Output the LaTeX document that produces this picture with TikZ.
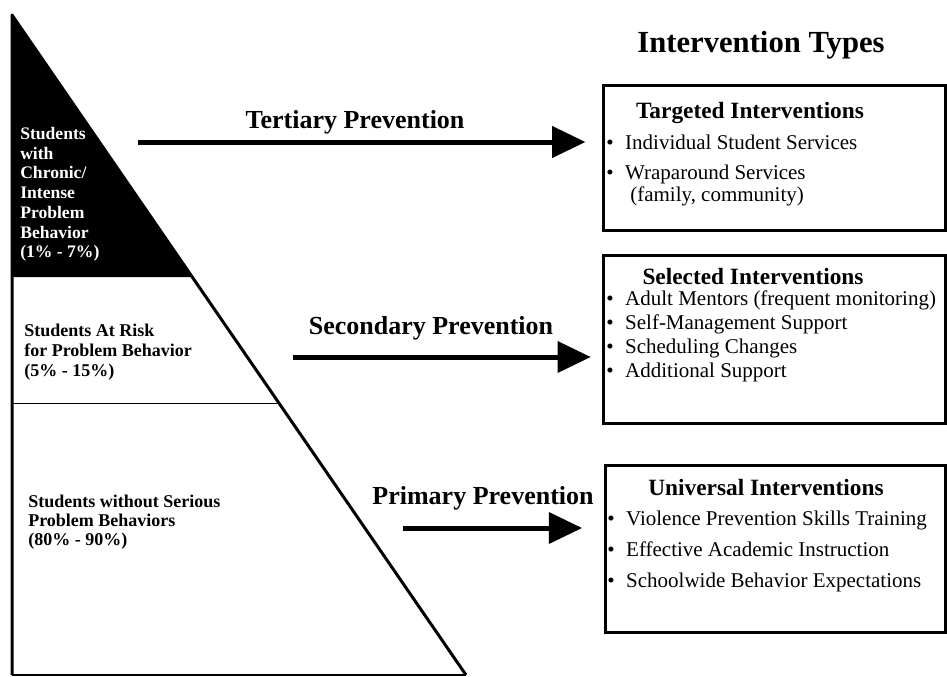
\documentclass[tikz,border=0pt]{standalone}
\usepackage{fontspec}
\setmainfont{Liberation Serif}
\usetikzlibrary{arrows.meta}

\tikzstyle{tier} = [font=\bfseries\fontsize{13.5}{15}\selectfont,
                    align=left, anchor=north west, inner sep=0pt]
\tikzstyle{tier-dark} = [tier, text=white, font=\bfseries\fontsize{13.2}{14.8}\selectfont]
\tikzstyle{prevention} = [line width=3.75pt, -{Triangle[length=25pt,width=23pt]}]
\tikzstyle{prev-label} = [font=\bfseries\fontsize{19.5}{22}\selectfont, inner sep=0pt]
\tikzstyle{intervention} = [rectangle, draw, line width=2.25pt, inner sep=0pt]
\tikzstyle{int-title} = [font=\bfseries\fontsize{17.5}{20}\selectfont, inner sep=0pt]
\tikzstyle{int-item} = [font=\fontsize{15.75}{18}\selectfont, anchor=base west, inner sep=0pt]
\newcommand{\dotitem}{\textbullet\hspace{0.55em}}

\begin{document}
\begin{tikzpicture}[x=0.75pt, y=-0.75pt]
  \useasboundingbox (0,0) rectangle (947,676);

  %% The triangle of student groups
  \fill (12,15) -- (192,277) -- (12,277) -- cycle;
  \draw [line width=2.25pt, line join=round] (12,675) -- (12,15) -- (466,675);
  \draw [line width=1.5pt] (12,675) -- (466,675);
  \draw [line width=0.6pt] (12,403) -- (278,403);

  \node (chronic) [tier-dark] at (20,127)
    {Students\\ with\\ Chronic/\\ Intense\\ Problem\\ Behavior\\ (1\% - 7\%)};
  \node (atrisk) [tier] at (24,324)
    {Students At Risk\\ for Problem Behavior\\ (5\% - 15\%)};
  \node (noserious) [tier, font=\bfseries\fontsize{13.5}{14}\selectfont] at (28,495)
    {Students without Serious\\ Problem Behaviors\\ (80\% - 90\%)};

  %% Intervention boxes
  \node [font=\bfseries\fontsize{23}{26}\selectfont, inner sep=0pt] (types)
    at (761,45) {Intervention Types};

  \node (targeted) [intervention, minimum width=256.5pt, minimum height=108.75pt]
    at (774,157.5) {};
  \node [int-title] at (750,113) {Targeted Interventions};
  \node [int-item] at (606,149) {\dotitem Individual Student Services};
  \node [int-item] at (606,179) {\dotitem Wraparound Services};
  \node [int-item] at (630,201) {(family, community)};

  \node (selected) [intervention, minimum width=256.5pt, minimum height=126pt]
    at (774,339) {};
  \node [int-title] at (753,277) {Selected Interventions};
  \node [int-item] at (606,305) {\dotitem Adult Mentors (frequent monitoring)};
  \node [int-item] at (606,329) {\dotitem Self-Management Support};
  \node [int-item] at (606,353) {\dotitem Scheduling Changes};
  \node [int-item] at (606,377) {\dotitem Additional Support};

  \node (universal) [intervention, minimum width=255pt, minimum height=125.25pt]
    at (775,548.5) {};
  \node [int-title] at (766,488) {Universal Interventions};
  \node [int-item] at (607,525) {\dotitem Violence Prevention Skills Training};
  \node [int-item] at (607,556) {\dotitem Effective Academic Instruction};
  \node [int-item] at (607,587) {\dotitem Schoolwide Behavior Expectations};

  %% Prevention arrows
  \coordinate (tertiary) at (138,142);
  \coordinate (secondary) at (293,357);
  \coordinate (primary) at (403,528);

  \draw [prevention, shorten >=12pt] (tertiary) -- (tertiary -| targeted.west);
  \node [prev-label] at (355,122) {Tertiary Prevention};

  \draw [prevention, shorten >=8pt] (secondary) -- (secondary -| selected.west);
  \node [prev-label] at (431,328) {Secondary Prevention};

  \draw [prevention, shorten >=16pt] (primary) -- (primary -| universal.west);
  \node [prev-label] at (483,498) {Primary Prevention};

\end{tikzpicture}
\end{document}
